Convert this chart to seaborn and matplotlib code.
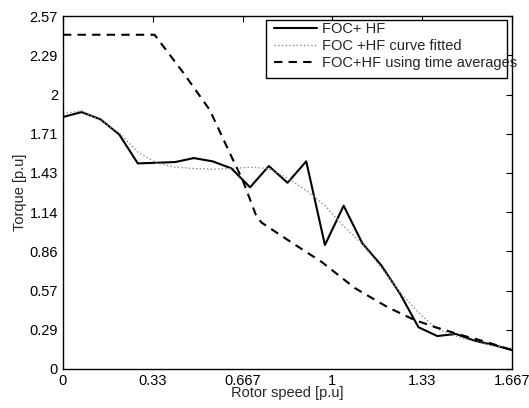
# Torque vs rotor speed, FOC+HF comparison

import numpy as np
import pandas as pd
import matplotlib
matplotlib.use('Agg')
import matplotlib.pyplot as plt
from matplotlib.patches import Rectangle
import seaborn as sns

# rotor speed grid for the measured / fitted curves (25 points, 0 .. 1.667)
speed = np.linspace(0, 1.667, 25)

foc_hf = [1.835, 1.871, 1.818, 1.709, 1.497, 1.502, 1.507, 1.536, 1.512, 1.461,
          1.323, 1.478, 1.356, 1.512, 0.903, 1.189, 0.915, 0.757, 0.551, 0.304,
          0.240, 0.255, 0.206, 0.175, 0.138]

foc_hf_fit = [1.86, 1.88, 1.81, 1.72, 1.58, 1.50, 1.47, 1.46, 1.455, 1.46,
              1.47, 1.46, 1.39, 1.30, 1.19, 1.04, 0.91, 0.74, 0.56, 0.41,
              0.29, 0.24, 0.20, 0.17, 0.15]

# time-average curve has its own speed points
speed_avg = [0, 0.34, 0.445, 0.545, 0.619, 0.667, 0.719, 0.738, 0.834,
             0.960, 1.083, 1.205, 1.305, 1.380, 1.473, 1.566, 1.667]
foc_hf_avg = [2.434, 2.434, 2.162, 1.886, 1.573, 1.376, 1.107, 1.065, 0.94,
              0.78, 0.59, 0.45, 0.357, 0.306, 0.25, 0.20, 0.138]

x_ticks = [0, 1/3, 2/3, 1, 4/3, 1.667]
x_labels = ['0', '0.33', '0.667', '1', '1.33', '1.667']
y_ticks = [i * 2.57 / 9 for i in range(10)]
y_labels = ['0', '0.29', '0.57', '0.86', '1.14', '1.43', '1.71', '2', '2.29', '2.57']

sns.set_style('white')
plt.rcParams['font.family'] = ['Liberation Sans', 'DejaVu Sans']

fig = plt.figure(figsize=(5.29, 4.08), dpi=100)
ax = fig.add_axes([0.119, 0.0956, 0.849, 0.865])

sns.lineplot(x=speed, y=foc_hf, ax=ax, color='black', linewidth=1.5,
             label='FOC+ HF', sort=False)
sns.lineplot(x=speed, y=foc_hf_fit, ax=ax, color='0.55', linewidth=1.0,
             linestyle=':', label='FOC +HF curve fitted', sort=False)
sns.lineplot(x=speed_avg, y=foc_hf_avg, ax=ax, color='black', linewidth=1.5,
             linestyle=(0, (4, 3)), label='FOC+HF using time averages', sort=False)

ax.set_xlim(0, 1.667)
ax.set_ylim(0, 2.57)
ax.set_xticks(x_ticks)
ax.set_xticklabels(x_labels)
ax.set_yticks(y_ticks)
ax.set_yticklabels(y_labels)
ax.tick_params(direction='in', top=True, right=True, length=4, labelsize=10.5,
               colors='black')
ax.set_xlabel('Rotor speed [p.u]', fontsize=10.5, labelpad=-1)
ax.set_ylabel('Torque [p.u]', fontsize=10.5, labelpad=2)
for s in ax.spines.values():
    s.set_color('black')
    s.set_linewidth(1.0)

# legend box is narrower than its text, like the original figure
box = Rectangle((0.452, 0.824), 0.537, 0.165, transform=ax.transAxes,
                facecolor='white', edgecolor='black', linewidth=1.0, zorder=4)
ax.add_patch(box)
leg = ax.legend(loc='upper left', bbox_to_anchor=(0.470, 0.982), fontsize=10.5,
                frameon=False, borderpad=0, labelspacing=0.2, handlelength=2.95,
                handletextpad=0.35, borderaxespad=0)
leg.set_zorder(5)

plt.savefig('out.png', dpi=100)
